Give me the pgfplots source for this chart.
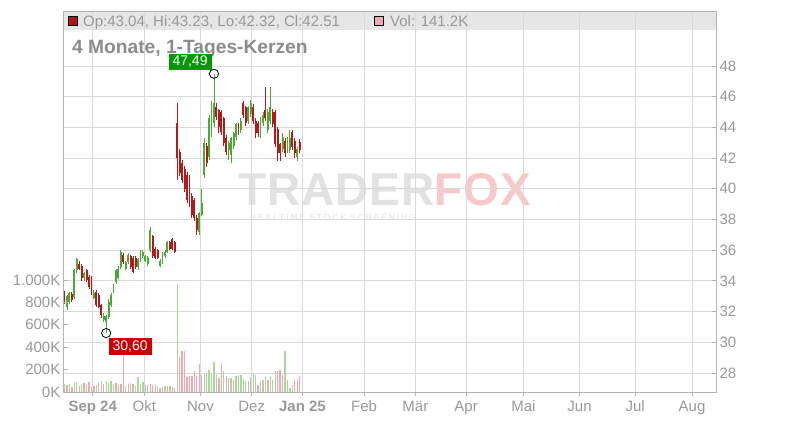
\documentclass[border=0pt]{standalone}
\usepackage{pgfplots}
\pgfplotsset{compat=1.18}
\usepackage{pgfplotstable}
\usepackage{fontspec}
\setmainfont{Liberation Sans}
\definecolor{cgreen}{HTML}{4CAA34}
\definecolor{cred}{HTML}{B51A1A}
\definecolor{vgreen}{HTML}{A8D8A0}
\definecolor{vred}{HTML}{F0A8B0}
\definecolor{gridc}{HTML}{DADADA}
\definecolor{txtc}{HTML}{999999}
\definecolor{axc}{HTML}{B4B4B4}
\definecolor{hdr}{HTML}{E6E6E6}
\definecolor{labg}{HTML}{009900}
\definecolor{labr}{HTML}{CC0000}
\definecolor{wmgray}{HTML}{E2E2E2}
\definecolor{wmpink}{HTML}{F6CACA}

% candles: x = trading-day index, o h l c
\pgfplotstableread{
x o h l c
1 32.3 33.1 32.1 33.0
2 32.6 33.3 32.5 33.2
4 32.95 34.8 32.8 34.7
5 34.7 35.5 34.5 35.4
8 34.2 34.6 34.0 34.5
12 32.9 33.4 32.8 33.2
16 31.45 31.9 31.3 31.7
17 31.3 31.8 30.6 31.7
18 31.67 32.8 31.5 32.65
19 32.4 33.2 32.3 33.1
20 33.3 33.8 33.2 33.7
21 33.9 34.8 33.8 34.7
22 34.2 35.0 34.1 34.8
23 34.9 36.0 34.8 35.9
25 34.8 35.3 34.7 35.2
26 35.2 35.8 35.1 35.7
30 34.9 35.5 34.7 35.4
31 35.3 36.0 35.2 35.9
32 35.6 36.0 35.5 35.9
33 35.3 35.7 35.2 35.6
34 35.1 35.6 35.0 35.5
35 36.0 37.5 35.9 37.3
39 35.0 35.4 34.9 35.3
40 35.2 35.9 35.1 35.8
41 35.6 36.0 35.5 35.9
42 35.9 36.6 35.8 36.5
55 37.2 38.5 37.0 38.4
56 38.3 40.0 38.2 39.1
57 40.9 43.3 40.7 43.0
59 42.1 44.8 41.9 44.6
60 43.8 45.7 43.4 45.5
61 44.3 47.49 44.0 45.6
67 42.5 43.1 41.9 43.0
68 42.2 43.4 41.7 43.3
69 42.8 43.7 42.6 43.6
70 43.4 44.3 43.2 44.2
72 43.8 44.6 43.6 44.4
75 44.4 45.4 44.2 45.3
76 44.9 45.8 44.7 45.6
80 43.5 44.7 43.3 44.6
81 44.3 45.0 44.1 44.8
83 43.8 45.2 43.6 45.0
84 44.4 46.6 44.2 45.3
89 42.6 43.6 42.4 43.4
91 42.5 43.4 42.3 43.2
92 42.5 43.8 42.3 43.3
95 42.1 42.7 41.8 42.6
}\greencandles

\pgfplotstableread{
x o h l c
0 33.2 33.35 32.5 32.8
3 33.15 33.3 32.6 32.75
6 35.1 35.3 34.7 34.8
7 35.0 35.1 34.0 34.2
9 34.7 34.8 33.9 34.05
10 34.27 34.4 33.5 33.6
11 34.2 34.3 33.1 33.2
13 33.3 33.4 32.3 32.4
14 33.1 33.2 32.2 32.3
15 32.4 32.5 31.6 31.8
24 35.7 35.8 35.1 35.2
27 35.6 35.7 34.8 34.9
28 35.5 35.6 34.5 34.6
29 35.5 35.6 34.8 34.9
36 36.9 37.0 35.5 35.6
37 36.1 36.2 35.4 35.5
38 36.0 36.1 35.4 35.5
43 36.5 36.6 36.0 36.1
44 36.7 36.8 36.0 36.1
45 36.5 36.6 35.8 35.9
46 44.3 45.6 40.6 42.0
47 42.4 42.6 40.8 41.0
48 41.7 41.9 40.4 40.6
49 41.3 41.5 39.8 40.0
50 40.9 41.1 39.1 39.3
51 40.8 40.9 38.8 39.0
52 39.5 39.7 38.1 38.3
53 39.3 39.4 37.9 38.1
54 38.1 38.3 37.0 37.3
58 42.8 43.0 41.4 41.7
62 45.3 45.6 44.5 44.7
63 45.1 45.2 43.6 44.0
64 45.0 45.1 43.5 43.7
65 44.6 44.7 42.8 43.0
66 43.3 43.5 42.2 42.4
71 44.1 44.3 43.5 43.7
73 45.6 45.7 44.6 44.8
74 45.3 45.4 44.1 44.3
77 45.3 45.5 44.2 44.4
78 44.4 44.6 43.3 43.6
79 44.3 44.4 43.4 43.6
82 45.1 46.6 44.4 44.6
85 45.0 45.2 44.0 44.2
86 45.0 45.1 42.7 42.9
87 43.9 44.0 41.8 42.3
88 42.9 43.0 41.8 42.3
90 43.1 43.3 42.1 42.3
93 43.7 43.8 42.5 42.7
94 43.1 43.3 42.0 42.3
96 43.04 43.23 42.32 42.51
}\redcandles

% volume in thousands
\pgfplotstableread{
x v
0 74
2 74
4 89
5 89
7 71
9 60
11 45
13 60
15 95
17 95
18 80
19 101
20 71
22 60
25 56
27 80
29 50
30 130
32 86
33 60
38 50
41 50
43 50
46 967
57 163
58 163
59 199
60 163
61 270
62 163
65 184
68 125
70 146
71 154
72 154
73 120
74 95
75 95
77 170
78 154
81 104
82 134
84 139
85 110
86 190
90 363
91 104
92 36
93 65
}\greenvol

\pgfplotstableread{
x v
1 65
3 45
6 50
8 83
10 86
12 50
14 80
16 71
21 83
23 70
24 330
26 74
28 71
31 74
34 60
35 71
36 65
37 65
39 40
40 45
42 50
44 45
45 40
47 309
48 369
49 369
50 130
51 139
52 139
53 190
54 139
55 253
56 150
63 125
64 259
66 139
67 125
69 110
76 134
79 65
80 95
83 110
87 184
88 199
89 154
94 104
95 104
96 141.2
}\redvol

\begin{document}
\begin{tikzpicture}[x=1bp,y=1bp]
\useasboundingbox (0,0) rectangle (800,420);
\fill[white] (0,0) rectangle (800,420);
% header band
\fill[hdr] (63.5,390) rectangle (716,409);
% watermark
\node[anchor=base west, inner sep=0] at (238,215)
  {\fontsize{46bp}{46bp}\selectfont\bfseries\addfontfeatures{LetterSpace=2}\textcolor{wmgray}{TRADER}\textcolor{wmpink}{FOX}};
\node[anchor=base west, inner sep=0] at (250,200)
  {\fontsize{8.5bp}{9bp}\selectfont\addfontfeatures{LetterSpace=22}\textcolor{wmgray}{REALTIME STOCK SCREENING}};

\begin{axis}[
  at={(63.5bp,28bp)}, anchor=south west,
  scale only axis, width=652.5bp, height=381bp,
  xmin=-0.41, xmax=265.9, ymin=26.76, ymax=51.58,
  axis line style={draw=axc, line width=0.8bp},
  xtick={11.5,32.6,55.5,76.4,97.1,122.3,143.2,163.9,187.3,210.2,232.9,256.1},
  xticklabels={\textbf{Sep 24},Okt,Nov,Dez,\textbf{Jan 25},Feb,Mär,Apr,Mai,Jun,Jul,Aug},
  ytick={28,30,...,48},
  yticklabel pos=right, ytick pos=right, xtick pos=left,
  xtick align=outside, ytick align=inside,
  major tick length=4bp,
  tick style={draw=axc, line width=0.8bp},
  grid=major, major grid style={draw=gridc, line width=0.9bp},
  ticklabel style={font=\fontsize{15bp}{18bp}\selectfont, text=txtc},
  xticklabel style={yshift=-1.5bp},
  /pgf/number format/assume math mode=true,
  clip=false,
]
% wicks
\addplot[draw=none, mark=none, forget plot,
  error bars/.cd, y dir=plus, y explicit, error mark=none,
  error bar style={draw=cgreen, line width=0.9bp, solid}]
  table[x=x, y=l, y error expr=\thisrow{h}-\thisrow{l}] {\greencandles};
\addplot[draw=none, mark=none, forget plot,
  error bars/.cd, y dir=plus, y explicit, error mark=none,
  error bar style={draw=cred, line width=0.9bp, solid}]
  table[x=x, y=l, y error expr=\thisrow{h}-\thisrow{l}] {\redcandles};
% bodies
\addplot[draw=none, mark=none, forget plot,
  error bars/.cd, y dir=plus, y explicit, error mark=none,
  error bar style={draw=cgreen, line width=1.9bp, solid}]
  table[x=x, y=o, y error expr={max(\thisrow{c}-\thisrow{o},0.08)}] {\greencandles};
\addplot[draw=none, mark=none, forget plot,
  error bars/.cd, y dir=plus, y explicit, error mark=none,
  error bar style={draw=cred, line width=1.9bp, solid}]
  table[x=x, y=c, y error expr={max(\thisrow{o}-\thisrow{c},0.08)}] {\redcandles};
% extreme markers
\addplot[only marks, mark=o, mark size=4.6bp, mark options={draw=black, line width=0.8bp}]
  coordinates {(17,30.6) (61,47.49)};
\coordinate (hiLab) at (axis cs:60.1,47.74);
\coordinate (loLab) at (axis cs:17.9,30.26);
\end{axis}

\begin{axis}[
  at={(63.5bp,28bp)}, anchor=south west,
  scale only axis, width=652.5bp, height=381bp,
  xmin=-0.41, xmax=265.9, ymin=0, ymax=3402,
  hide x axis,
  axis y line*=left,
  axis line style={draw=axc, line width=0.8bp},
  ytick={0,200,400,600,800,1000},
  yticklabels={0K,200K,400K,600K,800K,1.000K},
  ytick align=inside, major tick length=4bp,
  tick style={draw=axc, line width=0.8bp},
  yticklabel style={font=\fontsize{15bp}{18bp}\selectfont, text=txtc, inner xsep=3bp},
]
\addplot[ycomb, draw=vgreen, line width=1.3bp, mark=none] table[x=x, y=v] {\greenvol};
\addplot[ycomb, draw=vred, line width=1.3bp, mark=none] table[x=x, y=v] {\redvol};
\end{axis}

% title (drawn before the price labels, as in the reference)
\node[anchor=base west, inner sep=0, text=black!45, font=\fontsize{19.2bp}{21bp}\selectfont\bfseries]
  at (72,366.2) {4 Monate, 1-Tages-Kerzen};
% extreme labels
\node[anchor=south east, fill=labg, text=white, inner xsep=4bp, inner ysep=2bp,
  font=\fontsize{14bp}{16bp}\selectfont] at (hiLab) {47,49};
\node[anchor=north west, fill=labr, text=white, inner xsep=4bp, inner ysep=2.5bp,
  font=\fontsize{14bp}{16bp}\selectfont] at (loLab) {30,60};

% header texts
\fill[cred!95!black, draw=black, line width=0.6bp] (68,395) rectangle (77,404);
\node[anchor=base west, inner sep=0, text=txtc, font=\fontsize{15bp}{18bp}\selectfont]
  at (83,393.5) {Op:43.04, Hi:43.23, Lo:42.32, Cl:42.51};
\fill[vred, draw=black, line width=0.6bp] (374.5,395) rectangle (383.5,404);
\node[anchor=base west, inner sep=0, text=txtc, font=\fontsize{15bp}{18bp}\selectfont]
  at (390,393.5) {Vol: 141.2K};
\end{tikzpicture}
\end{document}
